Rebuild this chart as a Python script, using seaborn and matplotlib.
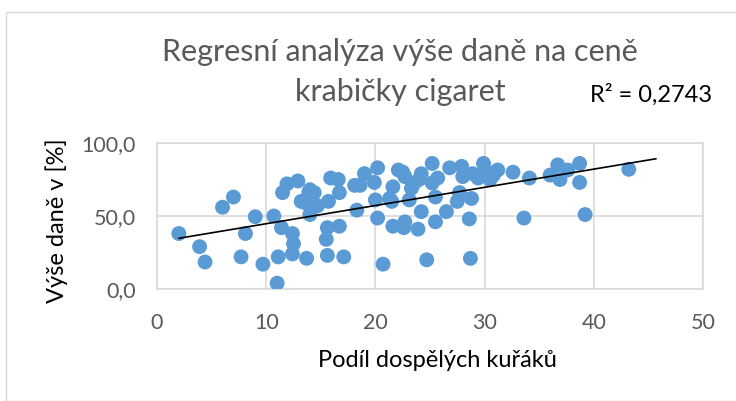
import numpy as np
import pandas as pd
import seaborn as sns
import matplotlib.pyplot as plt
from matplotlib.patches import Rectangle

# Data (share of adult smokers vs. tax share of price)
kuraci = [2.0, 3.9, 4.4, 6.0, 7.0, 7.7, 8.1, 9.0, 9.7, 10.7,
          11.0, 11.1, 11.4, 11.5, 11.9, 12.4, 12.5, 12.4, 12.9, 13.7,
          13.9, 14.4, 13.6, 14.2, 14.0, 14.7, 15.7, 15.9, 16.6, 16.7,
          15.6, 15.5, 16.7, 15.6, 17.1, 18.1, 18.3, 18.6, 19.0, 20.2,
          19.9, 20.0, 20.2, 20.7, 21.6, 21.5, 21.6, 22.1, 22.7, 23.3,
          23.1, 22.7, 22.6, 23.9, 24.2, 24.2, 25.2, 25.2, 25.7, 25.5,
          25.5, 24.7, 26.5, 26.8, 27.9, 28.0, 27.7, 27.5, 28.8, 28.6,
          28.7, 28.9, 29.9, 29.4, 30.5, 31.2, 32.6, 34.1, 33.6, 30.3,
          36.0, 36.7, 36.9, 37.6, 38.7, 38.7, 39.2, 43.2, 14.0, 13.2,
          22.5, 24.0, 21.3, 23.5, 29.5, 30.8]
dan = [38, 29, 18.5, 56, 63, 22, 38, 49.5, 17, 50,
       4, 22, 42, 66, 72, 38, 31, 24, 74, 21,
       66, 66, 59, 55, 51, 57, 60, 76, 75, 66,
       42, 34, 43, 23, 22, 71, 54, 71, 79, 83,
       73, 61, 48.6, 17, 70, 60, 43, 81.5, 77, 69,
       61, 46, 42, 41, 53, 79, 86, 72.6, 76, 63,
       46, 20, 53, 83, 84, 77, 66, 60, 62, 48,
       21, 79, 86, 76, 75, 81.5, 80, 76, 48.6, 80,
       78, 85, 75, 81.5, 86, 73, 51, 82, 68, 60,
       80, 75, 62, 72, 78, 78]
x_ticks = [0, 10, 20, 30, 40, 50]
y_ticks = [0, 50, 100]
y_tick_labels = ['0,0', '50,0', '100,0']
trend_end = 45.7

df = pd.DataFrame({'kuraci': kuraci, 'dan': dan})

sns.set_style('white')
plt.rcParams['font.family'] = ['Lato', 'DejaVu Sans']

fig = plt.figure(figsize=(7.36, 4.01), dpi=100)
ax = fig.add_axes([157 / 736, 1 - 289 / 401, 546 / 736, 146 / 401])

# chart area border like Excel
fig.patches.append(Rectangle((6 / 736, 0), 1, 1 - 12 / 401, transform=fig.transFigure,
                             fill=False, edgecolor='#D9D9D9', linewidth=1))

sns.scatterplot(data=df, x='kuraci', y='dan', ax=ax, s=115, color='#5B9BD5',
                edgecolor='none', linewidth=0, zorder=3)

# linear trendline
k, q = np.polyfit(df['kuraci'], df['dan'], 1)
xs = np.array([df['kuraci'].min(), trend_end])
ax.plot(xs, k * xs + q, color='black', linewidth=1.2, zorder=4)

ax.set_xlim(0, 50)
ax.set_ylim(0, 100)
ax.set_xticks(x_ticks)
ax.set_yticks(y_ticks)
ax.set_yticklabels(y_tick_labels)
ax.grid(True, color='#D9D9D9', linewidth=1.2)
ax.set_axisbelow(True)
for s in ax.spines.values():
    s.set_color('#D9D9D9')
    s.set_linewidth(1.2)
ax.tick_params(axis='both', length=0, labelsize=15.5, colors='#595959')
ax.tick_params(axis='y', pad=15)
ax.tick_params(axis='x', pad=17)

ax.set_xlabel('Podíl dospělých kuřáků', fontsize=17, color='black')
ax.set_ylabel('Výše daně v [%]', fontsize=17, color='black')
ax.xaxis.set_label_coords(0.513, -0.49)
ax.yaxis.set_label_coords(-0.183, 0.47)
ax.xaxis.label.set_va('center')
ax.yaxis.label.set_va('center')

fig.text(400 / 736, 1 - 52 / 401, 'Regresní analýza výše daně na ceně', ha='center', va='center',
         fontsize=22, color='#595959')
fig.text(400 / 736, 1 - 92 / 401, 'krabičky cigaret', ha='center', va='center',
         fontsize=22, color='#595959')
fig.text(651 / 736, 1 - 95 / 401, 'R² = 0,2743', ha='center', va='center',
         fontsize=17, color='black')

fig.savefig('out.png', dpi=100)
